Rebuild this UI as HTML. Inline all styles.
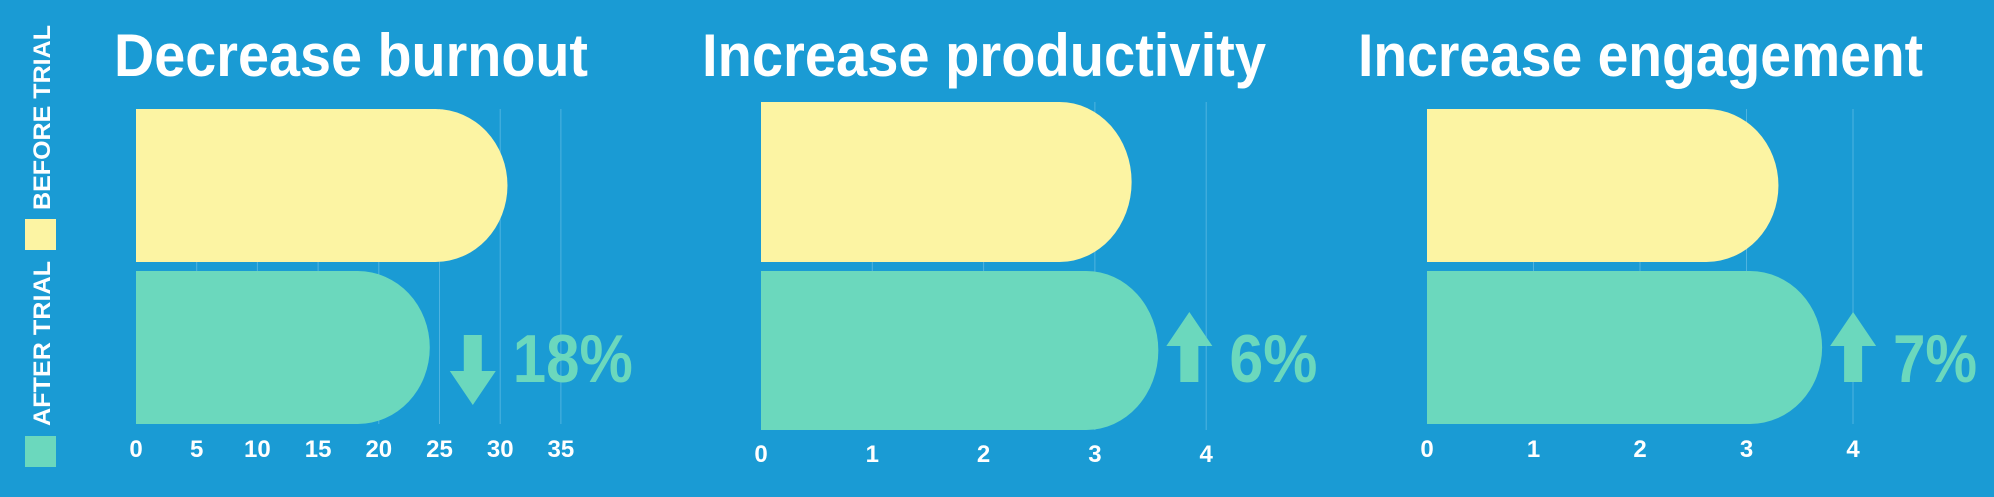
<!DOCTYPE html>
<html><head><meta charset="utf-8"><style>
html,body{margin:0;padding:0;background:#1a9bd4;}
svg{display:block;font-family:"Liberation Sans",sans-serif;}
</style></head><body>
<svg id="chart" width="1994" height="497" viewBox="0 0 1994 497">
<rect width="1994" height="497" fill="#1a9bd4"/>
<g>
 <rect x="25" y="219" width="31" height="31" fill="#fcf4a3"/>
 <text transform="translate(50,210) rotate(-90)" font-size="24" font-weight="bold" fill="#fff" textLength="185" lengthAdjust="spacingAndGlyphs">BEFORE TRIAL</text>
 <rect x="25" y="436" width="31" height="31" fill="#6bd8bd"/>
 <text transform="translate(50,426) rotate(-90)" font-size="24" font-weight="bold" fill="#fff" textLength="165" lengthAdjust="spacingAndGlyphs">AFTER TRIAL</text>
</g>
<g id="panels"></g>
</svg>
<script>
const titles = ["Decrease burnout","Increase productivity","Increase engagement"];
const beforeValues = [30.6, 3.33, 3.30];
const afterValues = [24.2, 3.57, 3.71];
const changeLabels = ["18%","6%","7%"];
const changeDirections = ["down","up","up"];
const tickLabels = [["0","5","10","15","20","25","30","35"],["0","1","2","3","4"],["0","1","2","3","4"]];

const layout = [
 {x0:136, unit:12.14, tStep:5, titleX:114, titleW:474, yTop:109, yMid:262, gTop:271, gBot:424, lblY:457, pctW:120},
 {x0:761, unit:111.3, tStep:1, titleX:702, titleW:564, yTop:102, yMid:262, gTop:271, gBot:430, lblY:462, pctW:88},
 {x0:1427, unit:106.5, tStep:1, titleX:1358, titleW:565, yTop:109, yMid:262, gTop:271, gBot:424, lblY:457, pctW:84}
];
const NS="http://www.w3.org/2000/svg";
const root=document.getElementById('panels');
function mk(tag,attrs,parent){const e=document.createElementNS(NS,tag);for(const k in attrs)e.setAttribute(k,attrs[k]);parent.appendChild(e);return e;}
function barPath(x0,end,y0,y1){
 const h=y1-y0, rx=Math.min(72,Math.max(0,end-x0)), s=end-rx;
 return `M${x0},${y0} H${s} A${rx},${h/2} 0 0 1 ${s},${y1} H${x0} Z`;
}
titles.forEach((t,i)=>{
 const L=layout[i];
 const g=mk('g',{},root);
 
 
 const xs=v=>L.x0+v*L.unit;
 const tt=mk('text',{x:L.titleX,y:76,'font-size':60,'font-weight':'bold',fill:'#fff',textLength:L.titleW,lengthAdjust:'spacingAndGlyphs'},g);
 tt.textContent=t;
 
 
 tickLabels[i].forEach((lab,j)=>{
  const x=xs(j*L.tStep);
  if(j>0){const gl=mk('line',{x1:x,x2:x,y1:L.yTop,y2:L.gBot,stroke:'#4fb3e0','stroke-width':1},g);
   
   }
  const tx=mk('text',{x:x,y:L.lblY,'font-size':24,'font-weight':'bold',fill:'#fff','text-anchor':'middle'},g);
  tx.textContent=lab;
  
  
 });
 const b=mk('path',{d:barPath(L.x0,xs(beforeValues[i]),L.yTop,L.yMid),fill:'#fcf4a3'},g);
 
 
 const a=mk('path',{d:barPath(L.x0,xs(afterValues[i]),L.gTop,L.gBot),fill:'#6bd8bd'},g);
 
 
 const ax=xs(afterValues[i])+(i==0?43:31);
 let ap;
 if(changeDirections[i]==='down'){
  ap=`M${ax-9},335 H${ax+9} V371 H${ax+23} L${ax},405 L${ax-23},371 H${ax-9} Z`;
 } else {
  ap=`M${ax-9},382 H${ax+9} V346 H${ax+23} L${ax},312 L${ax-23},346 H${ax-9} Z`;
 }
 const ar=mk('path',{d:ap,fill:'#6bd8bd'},g);
 
 
 const ct=mk('text',{x:ax+40,y:382,'font-size':68,'font-weight':'bold',fill:'#6bd8bd',textLength:L.pctW,lengthAdjust:'spacingAndGlyphs'},g);
 ct.textContent=changeLabels[i];
 
 
});
</script>
</body></html>
